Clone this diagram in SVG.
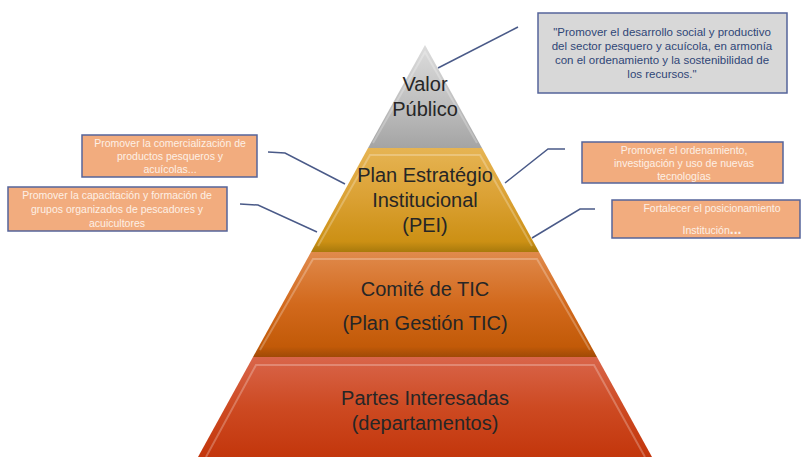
<svg xmlns="http://www.w3.org/2000/svg" width="802" height="457" viewBox="0 0 802 457">
<defs>
<linearGradient id="gGrey" x1="0" y1="0" x2="0" y2="1"><stop offset="0" stop-color="#dcdcdc"/><stop offset="0.6" stop-color="#bdbdbd"/><stop offset="1" stop-color="#a4a4a4"/></linearGradient>
<linearGradient id="gGold" x1="0" y1="0" x2="0" y2="1"><stop offset="0" stop-color="#e6b453"/><stop offset="0.5" stop-color="#daa032"/><stop offset="0.9" stop-color="#cc9014"/><stop offset="1" stop-color="#a87a0c"/></linearGradient>
<linearGradient id="gOrange" x1="0" y1="0" x2="0" y2="1"><stop offset="0" stop-color="#e08a4c"/><stop offset="0.5" stop-color="#d2691c"/><stop offset="0.9" stop-color="#c25a08"/><stop offset="1" stop-color="#a04a06"/></linearGradient>
<linearGradient id="gRed" x1="0" y1="0" x2="0" y2="1"><stop offset="0" stop-color="#d9654a"/><stop offset="0.5" stop-color="#cd4a22"/><stop offset="1" stop-color="#c3360c"/></linearGradient>
<style>
.lvl{stroke:none}
.bev{fill:none;stroke:#ffffff;stroke-opacity:0.25;stroke-width:2}
.pt{font-family:"Liberation Sans",Arial,sans-serif;font-size:20px;fill:#262626;text-anchor:middle}
.box{fill:#f2ac7e;stroke:#55649a;stroke-width:1.5}
.bt{font-family:"Liberation Sans",Arial,sans-serif;font-size:10.5px;fill:#fdf0e6;text-anchor:middle}
.qbox{fill:#d8d8d8;stroke:#55649a;stroke-width:1.5}
.qt{font-family:"Liberation Sans",Arial,sans-serif;font-size:11.5px;fill:#2f4677;text-anchor:middle}
.con{fill:none;stroke:#4a5a88;stroke-width:1.5}
</style>
</defs>
<g id="connectors">
<polyline class="con" points="438,68 518,27"/>
<polyline class="con" points="268,152 285,153 345,184"/>
<polyline class="con" points="240,204 258,205 317,232"/>
<polyline class="con" points="565,149 548,149 505,183"/>
<polyline class="con" points="595,209 580,209 532,238"/>
</g>
<g id="level-valor-publico">
<polygon class="lvl" fill="url(#gGrey)" points="425,45 482,148 368,148"/>
<polyline class="bev" points="373,143 425,52 477,143"/>
<text class="pt" x="425" y="91">Valor</text>
<text class="pt" x="425" y="116">Público</text>
</g>
<g id="level-pei">
<polygon class="lvl" fill="url(#gGold)" points="368,148 482,148 539,252 311,252"/>
<polyline class="bev" points="318,246 370,155 480,155 532,246"/>
<text class="pt" x="425" y="182">Plan Estratégio</text>
<text class="pt" x="425" y="207">Institucional</text>
<text class="pt" x="425" y="232">(PEI)</text>
</g>
<g id="level-comite">
<polygon class="lvl" fill="url(#gOrange)" points="311,252 539,252 597,357 253,357"/>
<polyline class="bev" points="260,350 313,259 537,259 590,350"/>
<text class="pt" x="425" y="296">Comité de TIC</text>
<text class="pt" x="425" y="330">(Plan Gestión TIC)</text>
</g>
<g id="level-partes">
<polygon class="lvl" fill="url(#gRed)" points="253,357 597,357 652,457 198,457"/>
<polyline class="bev" points="206,457 256,365 594,365 645,457"/>
<text class="pt" x="425" y="405">Partes Interesadas</text>
<text class="pt" x="425" y="430">(departamentos)</text>
</g>
<g id="box-valor">
<rect class="qbox" x="538" y="13" width="249" height="80"/>
<text class="qt" x="662" y="36">"Promover el desarrollo social y productivo</text>
<text class="qt" x="662" y="50">del sector pesquero y acuícola, en armonía</text>
<text class="qt" x="662" y="64">con el ordenamiento  y la sostenibilidad  de</text>
<text class="qt" x="662" y="78">los recursos."</text>
</g>
<g id="box-comercializacion">
<rect class="box" x="82" y="135" width="175" height="42"/>
<text class="bt" x="170" y="147">Promover la comercialización de</text>
<text class="bt" x="170" y="160">productos pesqueros y</text>
<text class="bt" x="170" y="173">acuícolas...</text>
</g>
<g id="box-capacitacion">
<rect class="box" x="8" y="187" width="219" height="44"/>
<text class="bt" x="117" y="199">Promover la capacitación y formación de</text>
<text class="bt" x="117" y="213">grupos organizados de pescadores y</text>
<text class="bt" x="117" y="227">acuicultores</text>
</g>
<g id="box-ordenamiento">
<rect class="box" x="582" y="142" width="201" height="41"/>
<text class="bt" x="684" y="154">Promover el ordenamiento,</text>
<text class="bt" x="684" y="167">investigación y uso de nuevas</text>
<text class="bt" x="684" y="180">tecnologías</text>
</g>
<g id="box-posicionamiento">
<rect class="box" x="612" y="200" width="188" height="38"/>
<text class="bt" x="712" y="212">Fortalecer el posicionamiento</text>
<text class="bt" x="712" y="234">Institución<tspan font-weight="bold" font-size="14px">...</tspan></text>
</g>
</svg>
